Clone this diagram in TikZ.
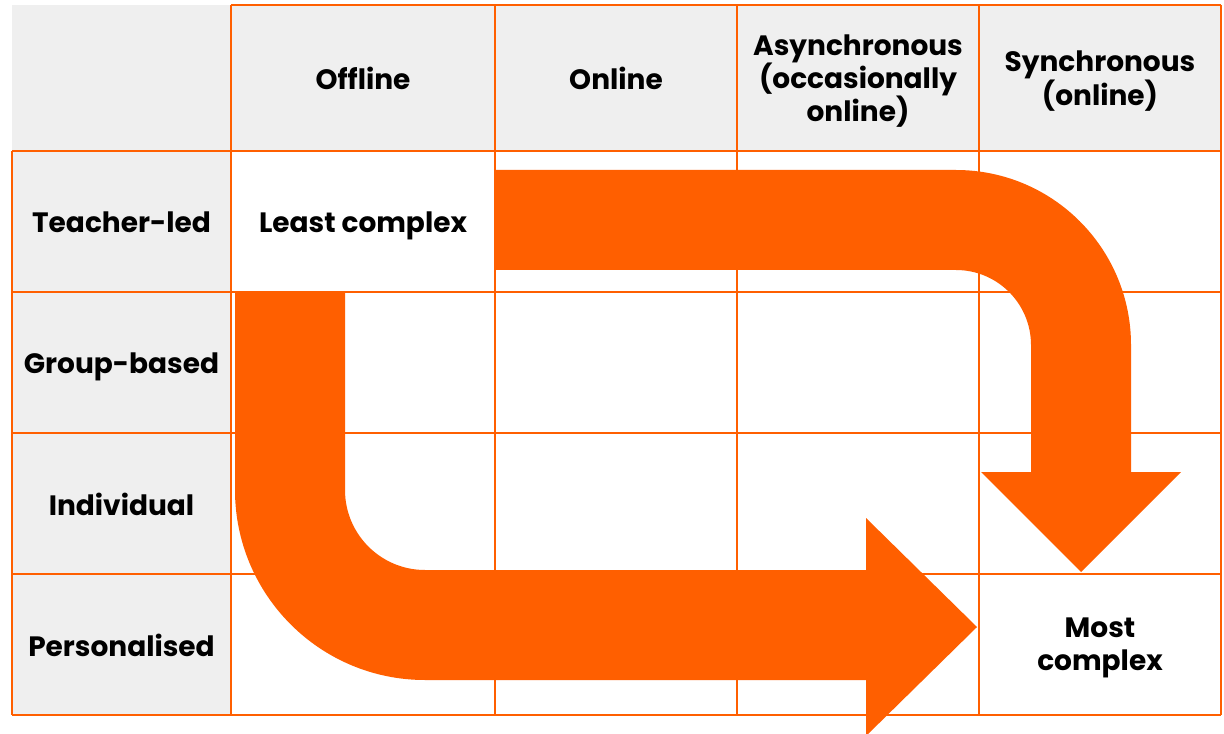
\documentclass[tikz,border=0pt]{standalone}
\usepackage{fontspec}
\setmainfont{Poppins}
\usepackage{xcolor}
\usepackage{tikz}

\definecolor{flame}{HTML}{FF5F00}
\definecolor{cellgrey}{HTML}{EFEFEF}

\begin{document}
\begin{tikzpicture}[
			x=0.75pt, y=0.75pt,
			% Define the style for the text nodes
			every node/.style={align=center, font=\fontsize{21}{25}\selectfont\bfseries},
			gridline/.style={draw=flame, line width=1.5pt},
			bigarrow/.style={fill=flame, draw=none}
			]

			\useasboundingbox (0,0) rectangle (1224,733);
			\fill[white] (0,0) rectangle (1224,733);

			% grey header row and first column
			\fill[cellgrey] (12,582) rectangle (1221,728);
			\fill[cellgrey] (12,18) rectangle (231,582);

			% grid lines
			\draw[gridline] (231,728) -- (1221,728);
			\draw[gridline] (12,582) -- (12,18);
			\foreach \xx in {231,495,737,979,1221}
				\draw[gridline] (\xx,728) -- (\xx,18);
			\foreach \yy in {582,441,300,159,18}
				\draw[gridline] (12,\yy) -- (1221,\yy);

			% arrow from the least complex cell, right and down
			\path[bigarrow] (495,563) -- (956,563)
				arc[start angle=90, end angle=0, radius=175]
				-- (1131,261) -- (1181,261) -- (1081,161) -- (981,261) -- (1031,261)
				-- (1031,388) arc[start angle=0, end angle=90, radius=75]
				-- (495,463) -- cycle;

			% arrow down and right to the most complex cell
			\path[bigarrow] (235,441) -- (235,243)
				arc[start angle=180, end angle=270, radius=190]
				-- (866,53) -- (866,-3) -- (977,106) -- (866,215) -- (866,163)
				-- (425,163) arc[start angle=270, end angle=180, radius=80]
				-- (345,441) -- cycle;

			% column headings
			\node (offline) at (363,655) {Offline};
			\node (online) at (616,655) {Online};
			\node (async) at (858,652) {Asynchronous\\(occasionally\\online)};
			\node (sync) at (1100,652) {Synchronous\\(online)};

			% row headings
			\node (teacher) at (121.5,511) {Teacher-led};
			\node (group) at (121.5,366) {Group-based};
			\node (indiv) at (121.5,229) {Individual};
			\node (person) at (121.5,88) {Personalised};

			\node (least) at (363,507) {Least complex};
			\node (most) at (1100,85) {Most\\complex};

		\end{tikzpicture}
\end{document}
